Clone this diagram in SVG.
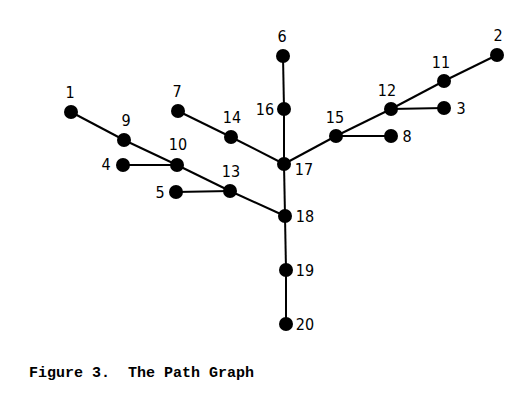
<svg xmlns="http://www.w3.org/2000/svg" width="529" height="402" viewBox="0 0 529 402">
<style>
.e{stroke:#000;stroke-width:2;fill:none}
.n{fill:#000}
.l{font-family:"Liberation Sans Narrow","DejaVu Sans Condensed","Liberation Sans",sans-serif;font-size:16px;fill:#000;text-anchor:middle;dominant-baseline:central}
.c{font-family:"Liberation Mono","DejaVu Sans Mono",monospace;font-size:15px;font-weight:bold;fill:#000}
</style>
<rect width="529" height="402" fill="#fff"/>
<g id="connectors">
<line class="e" x1="71" y1="112" x2="124" y2="140"/>
<line class="e" x1="124" y1="140" x2="177" y2="165"/>
<line class="e" x1="177" y1="165" x2="230" y2="191"/>
<line class="e" x1="230" y1="191" x2="285" y2="216"/>
<line class="e" x1="123" y1="165" x2="177" y2="165"/>
<line class="e" x1="176" y1="192" x2="230" y2="191"/>
<line class="e" x1="178" y1="111" x2="231" y2="137"/>
<line class="e" x1="231" y1="137" x2="284" y2="164"/>
<line class="e" x1="283" y1="56" x2="284" y2="109"/>
<line class="e" x1="284" y1="109" x2="284" y2="164"/>
<line class="e" x1="284" y1="164" x2="285" y2="216"/>
<line class="e" x1="285" y1="216" x2="286" y2="270"/>
<line class="e" x1="286" y1="270" x2="286" y2="324"/>
<line class="e" x1="284" y1="164" x2="336" y2="136"/>
<line class="e" x1="336" y1="136" x2="391" y2="109"/>
<line class="e" x1="391" y1="109" x2="444" y2="81"/>
<line class="e" x1="444" y1="81" x2="497" y2="55"/>
<line class="e" x1="391" y1="109" x2="444" y2="108"/>
<line class="e" x1="336" y1="136" x2="391" y2="136"/>
</g>
<g id="n1"><circle class="n" cx="71" cy="112" r="7"/><text class="l" x="70" y="92">1</text></g>
<g id="n2"><circle class="n" cx="497" cy="55" r="7"/><text class="l" x="498" y="35">2</text></g>
<g id="n3"><circle class="n" cx="444" cy="108" r="7"/><text class="l" x="461" y="108">3</text></g>
<g id="n4"><circle class="n" cx="123" cy="165" r="7"/><text class="l" x="106" y="164">4</text></g>
<g id="n5"><circle class="n" cx="176" cy="192" r="7"/><text class="l" x="160" y="192">5</text></g>
<g id="n6"><circle class="n" cx="283" cy="56" r="7"/><text class="l" x="282" y="36">6</text></g>
<g id="n7"><circle class="n" cx="178" cy="111" r="7"/><text class="l" x="177" y="91">7</text></g>
<g id="n8"><circle class="n" cx="391" cy="136" r="7"/><text class="l" x="407" y="136">8</text></g>
<g id="n9"><circle class="n" cx="124" cy="140" r="7"/><text class="l" x="126" y="120">9</text></g>
<g id="n10"><circle class="n" cx="177" cy="165" r="7"/><text class="l" x="178" y="144">10</text></g>
<g id="n11"><circle class="n" cx="444" cy="81" r="7"/><text class="l" x="441" y="62">11</text></g>
<g id="n12"><circle class="n" cx="391" cy="109" r="7"/><text class="l" x="387" y="90">12</text></g>
<g id="n13"><circle class="n" cx="230" cy="191" r="7"/><text class="l" x="231" y="171">13</text></g>
<g id="n14"><circle class="n" cx="231" cy="137" r="7"/><text class="l" x="232" y="117">14</text></g>
<g id="n15"><circle class="n" cx="336" cy="136" r="7"/><text class="l" x="335" y="117">15</text></g>
<g id="n16"><circle class="n" cx="284" cy="109" r="7"/><text class="l" x="265" y="109">16</text></g>
<g id="n17"><circle class="n" cx="284" cy="164" r="7"/><text class="l" x="304" y="169">17</text></g>
<g id="n18"><circle class="n" cx="285" cy="216" r="7"/><text class="l" x="305" y="216">18</text></g>
<g id="n19"><circle class="n" cx="286" cy="270" r="7"/><text class="l" x="305" y="270">19</text></g>
<g id="n20"><circle class="n" cx="286" cy="324" r="7"/><text class="l" x="305" y="324">20</text></g>
<text class="c" x="29" y="377" xml:space="preserve">Figure 3.  The Path Graph</text>
</svg>
